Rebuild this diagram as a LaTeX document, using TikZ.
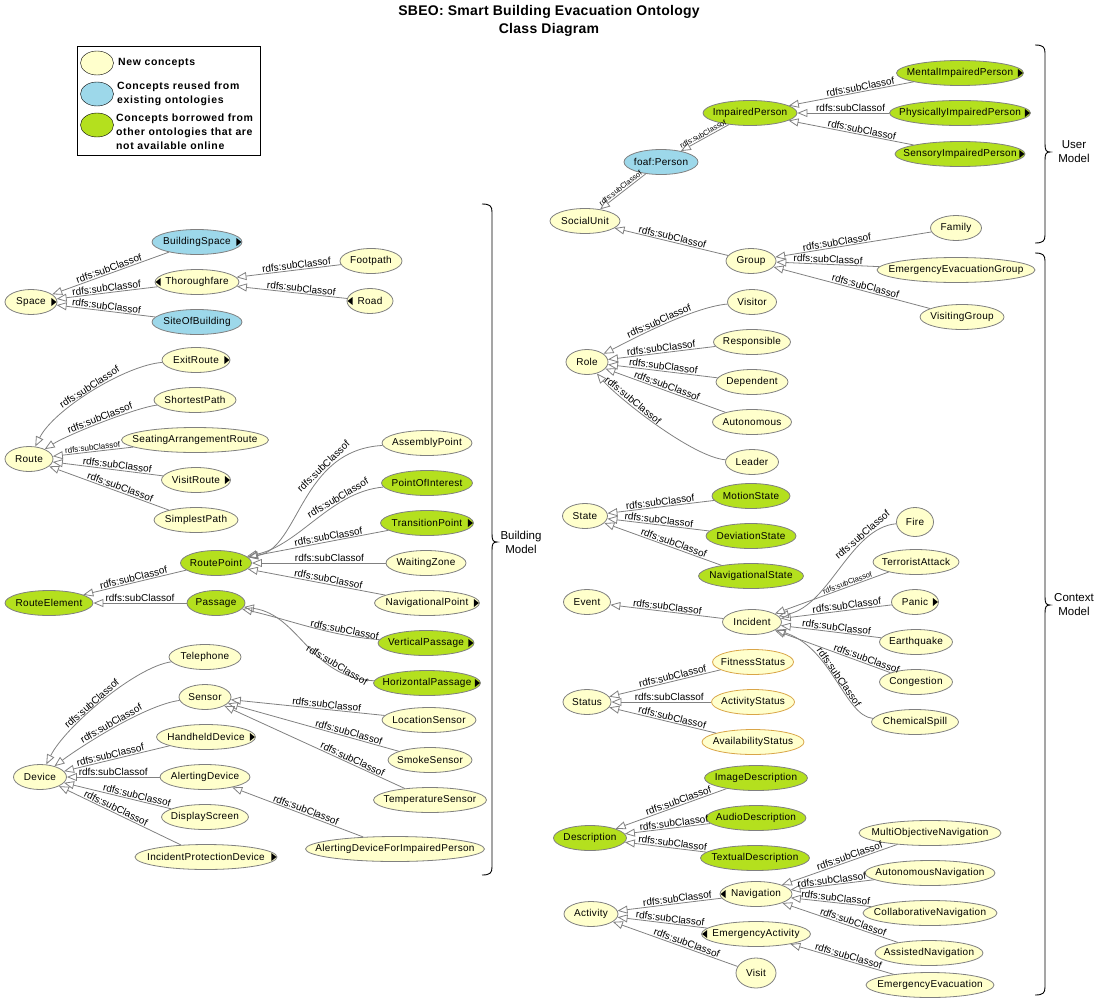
\documentclass[tikz,border=0pt]{standalone}
\usepackage{fontspec}
\setmainfont{Liberation Sans}
\usepackage{tikz}
\newfontfamily\clsfont[LetterSpace=3]{Liberation Sans}
\newfontfamily\legfont[LetterSpace=6]{Liberation Sans}
\newfontfamily\ttlfont[LetterSpace=2]{Liberation Sans}
\definecolor{newc}{HTML}{FFFFCC}
\definecolor{reusedc}{HTML}{9DD8EA}
\definecolor{borrowc}{HTML}{B4E01E}
\definecolor{edgec}{HTML}{808080}
\definecolor{statc}{HTML}{D9A548}
\usetikzlibrary{arrows.meta, shapes.geometric}
\newcommand{\markR}[1]{\fill ([xshift=-1pt]#1.east) -- ++(-5,4) -- ++(0,-8) -- cycle;}
\newcommand{\markL}[1]{\fill ([xshift=1pt]#1.west) -- ++(5,4) -- ++(0,-8) -- cycle;}
\newcommand{\mbrace}[4]{%
  \draw[line width=0.9pt] (#1,#2) .. controls (#1+8,#2) and (#1+10,#2+2) .. (#1+10,#2+8)
    -- (#1+10,#3-8) .. controls (#1+10,#3-2) and (#1+11,#3) .. (#1+15,#3)
    .. controls (#1+11,#3) and (#1+10,#3+2) .. (#1+10,#3+8)
    -- (#1+10,#4-8) .. controls (#1+10,#4-2) and (#1+8,#4) .. (#1,#4);}

\begin{document}
\begin{tikzpicture}[x=1pt, y=-1pt]

  \tikzstyle{cls} = [%
  ellipse,
  draw=edgec,
  fill=newc,
  line width=0.8pt,
  minimum height=25pt,
  inner xsep=-30pt,
  inner ysep=0pt,
  font=\clsfont\fontsize{10}{12}\selectfont,
  ];
  \tikzstyle{reu} = [cls, fill=reusedc];
  \tikzstyle{bor} = [cls, fill=borrowc];
  \tikzstyle{lgd} = [ellipse, draw=black, minimum width=33pt, minimum height=24pt, inner sep=0pt];
  \tikzstyle{lgdtxt} = [anchor=west, align=left, inner sep=0pt,
    font=\legfont\bfseries\fontsize{10.5}{14}\selectfont];
  \tikzstyle{modeltxt} = [align=center, font=\fontsize{11.5}{14}\selectfont];

  \tikzset{subcls/.style={draw=edgec, line width=0.8pt,
      -{Triangle[open, length=10pt, width=8pt]}}}
  \tikzset{lbl/.style={sloped, above, pos=.42, inner sep=1pt, font=\fontsize{10}{12}\selectfont}}
  \tikzset{smalllbl/.style={lbl, font=\fontsize{7.5}{9}\selectfont}}

  \useasboundingbox (0,0) rectangle (1099,1001);

  % title and legend
  \node[align=center, font=\ttlfont\bfseries\fontsize{14}{18}\selectfont] (title) at (549,21)
    {SBEO: Smart Building Evacuation Ontology\\Class Diagram};
  \draw[line width=0.8pt] (77,46) rectangle (260,155);
  \node[lgd, fill=newc] (lgnew) at (97,63) {};
  \node[lgd, fill=reusedc] (lgreu) at (97,94) {};
  \node[lgd, fill=borrowc] (lgbor) at (97,125) {};
  \node[lgdtxt] (lgnewtxt) at (118,63) {New concepts};
  \node[lgdtxt] (lgreutxt) at (117,94) {Concepts reused from\\existing ontologies};
  \node[lgdtxt] (lgbortxt) at (116,132) {Concepts borrowed from\\other ontologies that are\\not available online};

  % building model
  \node[cls, minimum width=52] (space) at (31,302) {Space};
  \node[reu, minimum width=90] (bspace) at (197,242) {BuildingSpace};
  \node[cls, minimum width=84] (thor) at (197,282) {Thoroughfare};
  \node[reu, minimum width=90] (site) at (197,322) {SiteOfBuilding};
  \node[cls, minimum width=62] (foot) at (371,261) {Footpath};
  \node[cls, minimum width=46] (road) at (370,301) {Road};

  \node[cls, minimum width=48] (route) at (29,459) {Route};
  \node[cls, minimum width=68] (exit) at (196,360) {ExitRoute};
  \node[cls, minimum width=82] (short) at (195,400) {ShortestPath};
  \node[cls, minimum width=147] (seat) at (195,440) {SeatingArrangementRoute};
  \node[cls, minimum width=69] (visitr) at (196,480) {VisitRoute};
  \node[cls, minimum width=84] (simple) at (196,520) {SimplestPath};

  \node[bor, minimum width=88] (relem) at (49,603) {RouteElement};
  \node[bor, minimum width=71] (rpoint) at (216,563) {RoutePoint};
  \node[bor, minimum width=58] (passage) at (216,603) {Passage};
  \node[cls, minimum width=90] (assembly) at (427,443) {AssemblyPoint};
  \node[bor, minimum width=91] (poi) at (427,483) {PointOfInterest};
  \node[bor, minimum width=93] (trans) at (427,523) {TransitionPoint};
  \node[cls, minimum width=80] (waiting) at (426,563) {WaitingZone};
  \node[cls, minimum width=105] (navpoint) at (427,603) {NavigationalPoint};
  \node[bor, minimum width=96] (vpass) at (426,643) {VerticalPassage};
  \node[bor, minimum width=107] (hpass) at (427,683) {HorizontalPassage};

  \node[cls, minimum width=53] (device) at (40,777) {Device};
  \node[cls, minimum width=72] (phone) at (205,657) {Telephone};
  \node[cls, minimum width=52] (sensor) at (205,697) {Sensor};
  \node[cls, minimum width=99] (handheld) at (206,737) {HandheldDevice};
  \node[cls, minimum width=90] (alerting) at (205,777) {AlertingDevice};
  \node[cls, minimum width=87] (display) at (205,817) {DisplayScreen};
  \node[cls, minimum width=142] (protect) at (206,857) {IncidentProtectionDevice};
  \node[cls, minimum width=94] (locsens) at (429,720) {LocationSensor};
  \node[cls, minimum width=84] (smoke) at (430,760) {SmokeSensor};
  \node[cls, minimum width=113] (temp) at (430,800) {TemperatureSensor};
  \node[cls, minimum width=179] (alertimp) at (395,849) {AlertingDeviceForImpairedPerson};

  % user model
  \node[cls, minimum width=70] (social) at (585,221) {SocialUnit};
  \node[reu, minimum width=74] (person) at (661,162) {foaf:Person};
  \node[bor, minimum width=94] (impaired) at (750,113) {ImpairedPerson};
  \node[bor, minimum width=127] (mental) at (960,73) {MentalImpairedPerson};
  \node[bor, minimum width=141] (physical) at (960,113) {PhysicallyImpairedPerson};
  \node[bor, minimum width=130] (sensory) at (960,154) {SensoryImpairedPerson};
  \node[cls, minimum width=50] (group) at (751,261) {Group};
  \node[cls, minimum width=51] (family) at (956,228) {Family};
  \node[cls, minimum width=158] (eegroup) at (956,270) {EmergencyEvacuationGroup};
  \node[cls, minimum width=84] (visgroup) at (962,317) {VisitingGroup};

  % context model
  \node[cls, minimum width=42] (role) at (587,362) {Role};
  \node[cls, minimum width=49] (visitor) at (752,302) {Visitor};
  \node[cls, minimum width=77] (respons) at (752,342) {Responsible};
  \node[cls, minimum width=72] (depend) at (752,382) {Dependent};
  \node[cls, minimum width=79] (autonom) at (752,422) {Autonomous};
  \node[cls, minimum width=53] (leader) at (752,462) {Leader};
  \node[cls, minimum width=45] (state) at (585,516) {State};
  \node[bor, minimum width=78] (motion) at (751,496) {MotionState};
  \node[bor, minimum width=90] (deviation) at (751,536) {DeviationState};
  \node[bor, minimum width=105] (navstate) at (751,576) {NavigationalState};
  \node[cls, minimum width=47] (event) at (587,602) {Event};
  \node[cls, minimum width=59] (incident) at (752,622) {Incident};
  \node[cls, minimum width=37, minimum height=29] (fire) at (915,522) {Fire};
  \node[cls, minimum width=86] (terror) at (916,562) {TerroristAttack};
  \node[cls, minimum width=47] (panic) at (915,602) {Panic};
  \node[cls, minimum width=73] (quake) at (916,642) {Earthquake};
  \node[cls, minimum width=73] (congest) at (916,682) {Congestion};
  \node[cls, minimum width=87] (chemical) at (915,722) {ChemicalSpill};
  \node[cls, minimum width=48] (status) at (587,702) {Status};
  \node[cls, draw=statc, minimum width=81] (fitness) at (753,662) {FitnessStatus};
  \node[cls, draw=statc, minimum width=83] (actstat) at (753,702) {ActivityStatus};
  \node[cls, draw=statc, minimum width=102] (avail) at (753,742) {AvailabilityStatus};
  \node[bor, minimum width=73] (descr) at (590,838) {Description};
  \node[bor, minimum width=103] (image) at (756,778) {ImageDescription};
  \node[bor, minimum width=100] (audio) at (756,818) {AudioDescription};
  \node[bor, minimum width=109] (textual) at (755,858) {TextualDescription};
  \node[cls, minimum width=54] (activity) at (591,914) {Activity};
  \node[cls, minimum width=72] (navig) at (756,894) {Navigation};
  \node[cls, minimum width=109] (emact) at (756,934) {EmergencyActivity};
  \node[cls, minimum width=40, minimum height=30] (visit) at (756,973) {Visit};
  \node[cls, minimum width=142] (multi) at (930,833) {MultiObjectiveNavigation};
  \node[cls, minimum width=130] (autonav) at (930,873) {AutonomousNavigation};
  \node[cls, minimum width=134] (collab) at (930,913) {CollaborativeNavigation};
  \node[cls, minimum width=108] (assist) at (929,953) {AssistedNavigation};
  \node[cls, minimum width=128] (emevac) at (930,985) {EmergencyEvacuation};

  % small black markers
  \markR{space} \markR{bspace} \markL{thor} \markL{road} \markR{exit} \markR{visitr}
  \markR{trans} \markR{navpoint} \markR{vpass} \markR{hpass} \markR{handheld} \markR{protect}
  \markR{mental} \markR{physical} \markR{sensory} \markR{panic} \markL{navig} \markL{emact}

  % subclass edges, building model
  \draw[subcls] (bspace) -- node[lbl, pos=.5]{rdfs:subClassof} (space);
  \draw[subcls] (thor) -- node[lbl, pos=.5]{rdfs:subClassof} (space);
  \draw[subcls] (site) -- node[lbl, pos=.5]{rdfs:subClassof} (space);
  \draw[subcls] (foot) -- node[lbl]{rdfs:subClassof} (thor);
  \draw[subcls] (road) -- node[lbl]{rdfs:subClassof} (thor);
  \draw[subcls] (exit) .. controls +(-70,5) and +(25,-50) .. node[lbl, pos=.5]{rdfs:subClassof} (route);
  \draw[subcls] (short) .. controls +(-60,8) and +(40,-25) .. node[lbl, pos=.5]{rdfs:subClassof} (route);
  \draw[subcls] (seat) -- node[smalllbl, font=\fontsize{8}{9}\selectfont, pos=.5]{rdfs:subClassof} (route);
  \draw[subcls] (visitr) -- node[lbl]{rdfs:subClassof} (route);
  \draw[subcls] (simple) -- node[lbl]{rdfs:subClassof} (route);
  \draw[subcls] (rpoint) -- node[lbl, pos=.5]{rdfs:subClassof} (relem);
  \draw[subcls] (passage) -- node[lbl, pos=.5]{rdfs:subClassof} (relem);
  \draw[subcls] (assembly) .. controls (300,450) and (300,548) .. node[lbl, pos=.3]{rdfs:subClassof} (rpoint);
  \draw[subcls] (poi) .. controls (330,492) and (300,545) .. node[lbl, pos=.3]{rdfs:subClassof} (rpoint);
  \draw[subcls] (trans) -- node[lbl]{rdfs:subClassof} (rpoint);
  \draw[subcls] (waiting) -- node[lbl]{rdfs:subClassof} (rpoint);
  \draw[subcls] (navpoint) -- node[lbl]{rdfs:subClassof} (rpoint);
  \draw[subcls] (vpass) .. controls (330,636) and (290,620) .. node[lbl, pos=.25]{rdfs:subClassof} (passage);
  \draw[subcls] (hpass) .. controls (310,678) and (300,615) .. node[lbl, pos=.25]{rdfs:subClassof} (passage);
  \draw[subcls] (phone) .. controls +(-70,10) and +(25,-50) .. node[lbl, pos=.55]{rdfs:subClassof} (device);
  \draw[subcls] (sensor) .. controls +(-60,8) and +(40,-30) .. node[lbl, pos=.5]{rdfs:subClassof} (device);
  \draw[subcls] (handheld) -- node[lbl, pos=.55]{rdfs:subClassof} (device);
  \draw[subcls] (alerting) -- node[lbl, pos=.5]{rdfs:subClassof} (device);
  \draw[subcls] (display) -- node[lbl, pos=.33]{rdfs:subClassof} (device);
  \draw[subcls] (protect) -- node[lbl, pos=.55]{rdfs:subClassof} (device);
  \draw[subcls] (locsens) -- node[lbl, pos=.38]{rdfs:subClassof} (sensor);
  \draw[subcls] (smoke) -- node[lbl, pos=.3]{rdfs:subClassof} (sensor);
  \draw[subcls] (temp) -- node[lbl, pos=.3]{rdfs:subClassof} (sensor);
  \draw[subcls] (alertimp) -- node[lbl, pos=.45]{rdfs:subClassof} (alerting);

  % subclass edges, user model
  \draw[subcls] (impaired) -- node[smalllbl, pos=.5]{rdfs:subClassof} (person);
  \draw[subcls] (person) -- node[smalllbl, pos=.5]{rdfs:subClassof} (social);
  \draw[subcls] (mental) -- node[lbl]{rdfs:subClassof} (impaired);
  \draw[subcls] (physical) -- node[lbl]{rdfs:subClassof} (impaired);
  \draw[subcls] (sensory) -- node[lbl]{rdfs:subClassof} (impaired);
  \draw[subcls] (group) -- node[lbl, pos=.5]{rdfs:subClassof} (social);
  \draw[subcls] (family) -- node[lbl, pos=.6]{rdfs:subClassof} (group);
  \draw[subcls] (eegroup) -- node[lbl, pos=.5]{rdfs:subClassof} (group);
  \draw[subcls] (visgroup) -- node[lbl]{rdfs:subClassof} (group);

  % subclass edges, context model
  \draw[subcls] (visitor) .. controls +(-60,5) and +(40,-20) .. node[lbl, pos=.5]{rdfs:subClassof} (role);
  \draw[subcls] (respons) -- node[lbl, pos=.5]{rdfs:subClassof} (role);
  \draw[subcls] (depend) -- node[lbl, pos=.5]{rdfs:subClassof} (role);
  \draw[subcls] (autonom) -- node[lbl, pos=.5]{rdfs:subClassof} (role);
  \draw[subcls] (leader) .. controls +(-60,-5) and +(30,35) .. node[lbl, pos=.68]{rdfs:subClassof} (role);
  \draw[subcls] (motion) -- node[lbl, pos=.5]{rdfs:subClassof} (state);
  \draw[subcls] (deviation) -- node[lbl, pos=.5]{rdfs:subClassof} (state);
  \draw[subcls] (navstate) -- node[lbl]{rdfs:subClassof} (state);
  \draw[subcls] (incident) -- node[lbl, pos=.5]{rdfs:subClassof} (event);
  \draw[subcls] (fire) .. controls (850,528) and (830,605) .. node[lbl, pos=.25]{rdfs:subClassof} (incident);
  \draw[subcls] (terror) -- node[smalllbl, pos=.35]{rdfs:subClassof} (incident);
  \draw[subcls] (panic) -- node[lbl, pos=.4]{rdfs:subClassof} (incident);
  \draw[subcls] (quake) -- node[lbl, pos=.45]{rdfs:subClassof} (incident);
  \draw[subcls] (congest) -- node[lbl, pos=.22]{rdfs:subClassof} (incident);
  \draw[subcls] (chemical) .. controls (845,716) and (832,648) .. node[lbl, pos=.5]{rdfs:subClassof} (incident);
  \draw[subcls] (fitness) -- node[lbl]{rdfs:subClassof} (status);
  \draw[subcls] (actstat) -- node[lbl]{rdfs:subClassof} (status);
  \draw[subcls] (avail) -- node[lbl]{rdfs:subClassof} (status);
  \draw[subcls] (image) -- node[lbl]{rdfs:subClassof} (descr);
  \draw[subcls] (audio) -- node[lbl]{rdfs:subClassof} (descr);
  \draw[subcls] (textual) -- node[lbl]{rdfs:subClassof} (descr);
  \draw[subcls] (navig) -- node[lbl]{rdfs:subClassof} (activity);
  \draw[subcls] (emact) -- node[lbl]{rdfs:subClassof} (activity);
  \draw[subcls] (visit) -- node[lbl]{rdfs:subClassof} (activity);
  \draw[subcls] (multi) -- node[lbl, pos=.4]{rdfs:subClassof} (navig);
  \draw[subcls] (autonav) -- node[lbl, pos=.5]{rdfs:subClassof} (navig);
  \draw[subcls] (collab) -- node[lbl, pos=.45]{rdfs:subClassof} (navig);
  \draw[subcls] (assist) -- node[lbl, pos=.4]{rdfs:subClassof} (navig);
  \draw[subcls] (emevac) -- node[lbl, pos=.45]{rdfs:subClassof} (emact);

  % model braces
  \mbrace{482}{204}{542}{875}
  \mbrace{1035}{45}{152}{243}
  \mbrace{1035}{253}{605}{995}
  \node[modeltxt] (bldmodel) at (521,542) {Building\\Model};
  \node[modeltxt] (usermodel) at (1074,152) {User\\Model};
  \node[modeltxt] (ctxmodel) at (1074,605) {Context\\Model};

\end{tikzpicture}
\end{document}
